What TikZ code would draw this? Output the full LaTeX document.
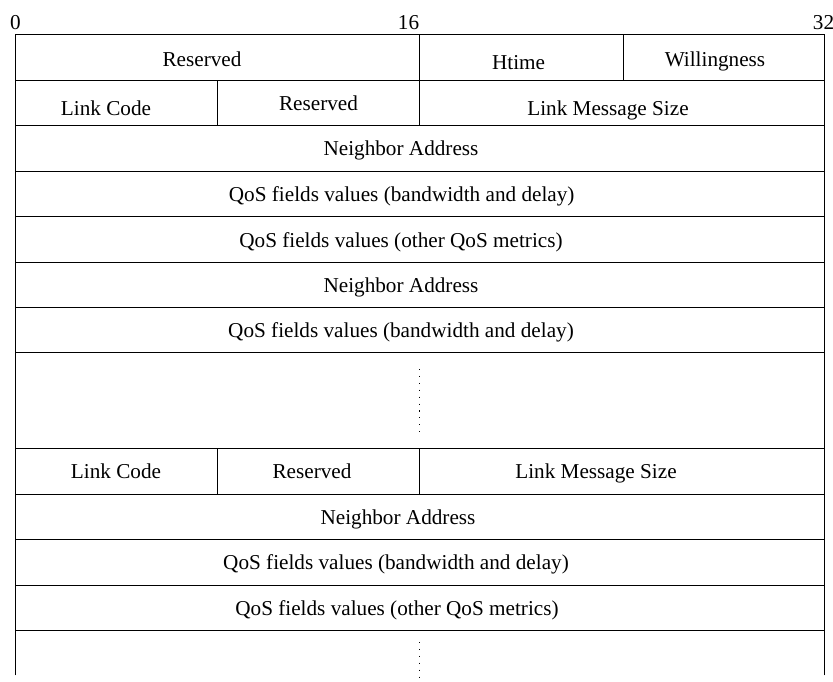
\documentclass[tikz,border=0pt]{standalone}
\usepackage{fontspec}
\setmainfont{Liberation Serif}
\begin{document}
\begin{tikzpicture}[x=1pt,y=-1pt,
  gridline/.style={line width=0.9pt, black, line cap=rect},
  lbl/.style={anchor=base, inner sep=0pt, font=\fontsize{21.2}{25}\selectfont},
  dotline/.style={line width=0.9pt, black, dash pattern=on 1.1pt off 5.8pt}]
\useasboundingbox (0,0) rectangle (833,681);
% horizontal lines
\foreach \yy in {34.3,80,125.7,171,216.7,262,307.3,352.7,448.3,494,539.3,585,630.3}
  \draw[gridline] (15.3,\yy) -- (824.3,\yy);
% outer verticals
\draw[gridline] (15.3,34.3) -- (15.3,675);
\draw[gridline] (824.3,34.3) -- (824.3,675);
% inner verticals
\draw[gridline] (419.3,34.3) -- (419.3,125.7);
\draw[gridline] (623,34.3) -- (623,80);
\draw[gridline] (217.5,80) -- (217.5,125.7);
\draw[gridline] (217.5,448.3) -- (217.5,494);
\draw[gridline] (419.3,448.3) -- (419.3,494);
% continuation dots
\draw[dotline] (419.3,369) -- (419.3,432);
\draw[dotline] (419.3,642) -- (419.3,681);
% bit numbers
\node[lbl] (b0) at (15.4,29.5) {0};
\node[lbl, anchor=base east] (b16) at (419.3,29.5) {16};
\node[lbl] (b32) at (823.5,29.5) {32};
% row 1
\node[lbl] (r1a) at (202,66.2) {Reserved};
\node[lbl] (r1b) at (518.6,69.8) {Htime};
\node[lbl] (r1c) at (715,66.2) {Willingness};
% row 2
\node[lbl] (r2a) at (106,115.3) {Link Code};
\node[lbl] (r2b) at (318.5,110.3) {Reserved};
\node[lbl] (r2c) at (608,115.3) {Link Message Size};
% rows 3-7
\node[lbl] (r3) at (401,155.5) {Neighbor Address};
\node[lbl] (r4) at (401.7,201.8) {QoS fields values (bandwidth and delay)};
\node[lbl] (r5) at (401,247) {QoS fields values (other QoS metrics)};
\node[lbl] (r6) at (401,292.3) {Neighbor Address};
\node[lbl] (r7) at (401,337.7) {QoS fields values (bandwidth and delay)};
% lower block
\node[lbl] (s1) at (116,478.8) {Link Code};
\node[lbl] (s2) at (312,478.8) {Reserved};
\node[lbl] (s3) at (596,478.8) {Link Message Size};
\node[lbl] (s4) at (398,524.3) {Neighbor Address};
\node[lbl] (s5) at (396,569.8) {QoS fields values (bandwidth and delay)};
\node[lbl] (s6) at (397,615.3) {QoS fields values (other QoS metrics)};
\end{tikzpicture}
\end{document}
